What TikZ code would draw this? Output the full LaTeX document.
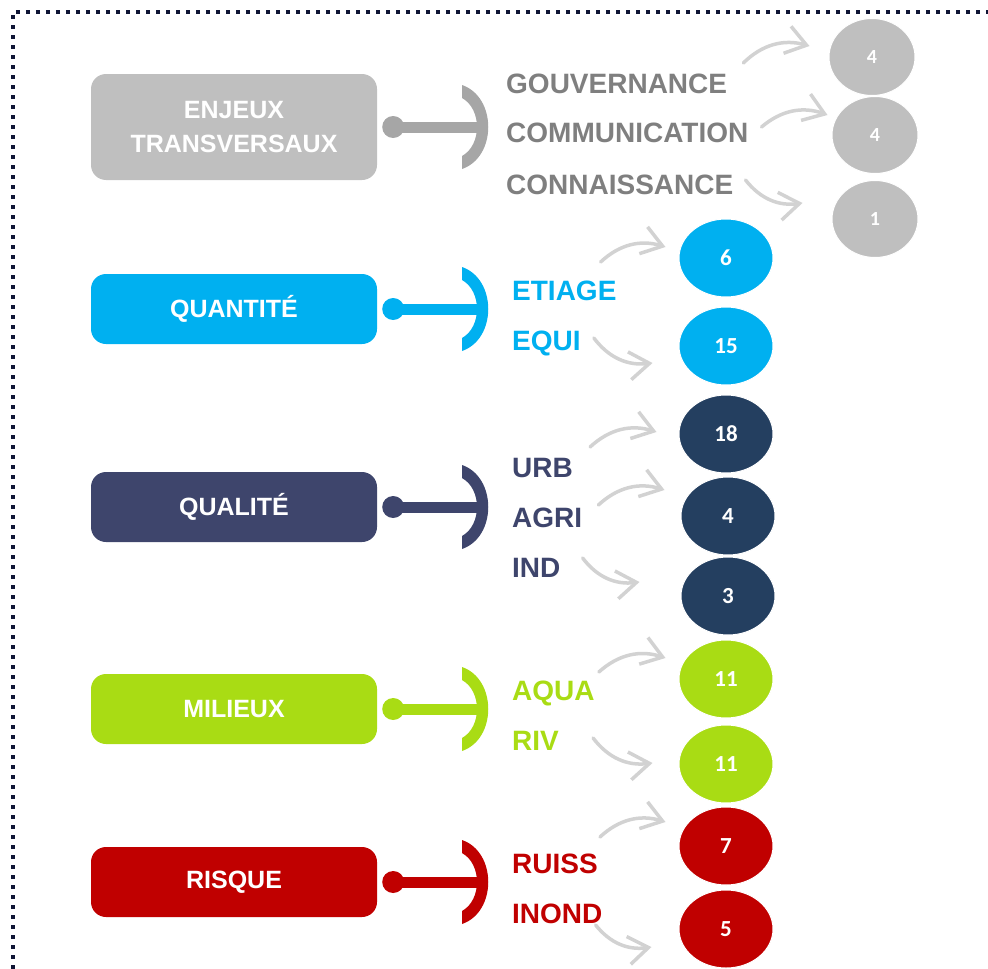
\documentclass[tikz,border=0pt]{standalone}
\usepackage{fontspec}
\setmainfont{Liberation Sans}
\newfontfamily\numfont{Carlito}
\usepackage{tikz}
\usetikzlibrary{arrows.meta, shapes.geometric}

\definecolor{enjcol}{HTML}{BFBFBF}
\definecolor{enjdark}{HTML}{A6A6A6}
\definecolor{enjtxt}{HTML}{7F7F7F}
\definecolor{qtcol}{HTML}{00B0F0}
\definecolor{qlcol}{HTML}{3E456C}
\definecolor{qlcirc}{HTML}{243F60}
\definecolor{milcol}{HTML}{A9DC14}
\definecolor{riskcol}{HTML}{C00000}
\definecolor{sketchcol}{HTML}{D2D2D2}
\definecolor{bordercol}{HTML}{0F1535}

\begin{document}
\begin{tikzpicture}[x=1pt, y=-1pt, inner sep=0pt,
	theme/.style={rectangle, rounded corners=15pt, minimum width=286pt, minimum height=70pt, text=white, align=center, font=\fontsize{25}{34}\selectfont\bfseries},
	item/.style={anchor=west, text height=20pt, text depth=0pt, font=\fontsize{28}{28}\selectfont\bfseries},
	count/.style={ellipse, minimum width=94pt, minimum height=78pt, draw=white, line width=1pt, text=white, text height=15pt, text depth=0pt, font=\numfont\fontsize{23}{23}\selectfont\bfseries},
	small/.style={minimum width=86pt, minimum height=77pt, text height=13pt, font=\numfont\fontsize{20}{20}\selectfont\bfseries},
	stem/.style={line width=11pt},
	sketch/.style={sketchcol, line width=3.5pt, line cap=round, -{Straight Barb[length=20pt, width=28pt, line width=3.5pt]}},
	hook/.pic={\fill (-15,-42) .. controls (20,-30) and (20,30) .. (-15,42) -- (-15,29) .. controls (5,18) and (5,-18) .. (-15,-29) -- cycle;}]
	
	\useasboundingbox (0,0) rectangle (988,969);
	\draw[bordercol, line width=4pt, dash pattern=on 4pt off 6pt] (13,969) -- (13,12) -- (988,12);
	
	% themes
	\node[theme, fill=enjcol, minimum height=106pt] (enj) at (234,127) {ENJEUX\\TRANSVERSAUX};
	\node[theme, fill=qtcol] (qt) at (234,309) {QUANTITÉ};
	\node[theme, fill=qlcol] (ql) at (234,507) {QUALITÉ};
	\node[theme, fill=milcol] (mil) at (234,709) {MILIEUX};
	\node[theme, fill=riskcol] (risk) at (234,882) {RISQUE};
	
	\coordinate (enj_b) at (477,127);
	\coordinate (qt_b) at (477,309);
	\coordinate (ql_b) at (477,507);
	\coordinate (mil_b) at (477,709);
	\coordinate (risk_b) at (477,882);
	
	\fill[enjdark] ([xshift=16pt]enj.east) circle (11pt);
	\draw[stem, enjdark] ([xshift=16pt]enj.east) -- (enj_b);
	\pic[color=enjdark] at (enj_b) {hook};
	
	\fill[qtcol] ([xshift=16pt]qt.east) circle (11pt);
	\draw[stem, qtcol] ([xshift=16pt]qt.east) -- (qt_b);
	\pic[color=qtcol] at (qt_b) {hook};
	
	\fill[qlcol] ([xshift=16pt]ql.east) circle (11pt);
	\draw[stem, qlcol] ([xshift=16pt]ql.east) -- (ql_b);
	\pic[color=qlcol] at (ql_b) {hook};
	
	\fill[milcol] ([xshift=16pt]mil.east) circle (11pt);
	\draw[stem, milcol] ([xshift=16pt]mil.east) -- (mil_b);
	\pic[color=milcol] at (mil_b) {hook};
	
	\fill[riskcol] ([xshift=16pt]risk.east) circle (11pt);
	\draw[stem, riskcol] ([xshift=16pt]risk.east) -- (risk_b);
	\pic[color=riskcol] at (risk_b) {hook};
	
	% sous-themes
	\node[item, text=enjtxt] (gouv) at (506,83) {GOUVERNANCE};
	\node[item, text=enjtxt] (comm) at (506,132) {COMMUNICATION};
	\node[item, text=enjtxt] (conn) at (506,184) {CONNAISSANCE};
	
	\node[item, text=qtcol] (etiage) at (512,290) {ETIAGE};
	\node[item, text=qtcol] (equi) at (512,340) {EQUI};
	
	\node[item, text=qlcol] (urb) at (512,467) {URB};
	\node[item, text=qlcol] (agri) at (512,517) {AGRI};
	\node[item, text=qlcol] (ind) at (512,567) {IND};
	
	\node[item, text=milcol] (aqua) at (512,690) {AQUA};
	\node[item, text=milcol] (riv) at (512,740) {RIV};
	
	\node[item, text=riskcol] (ruiss) at (512,863) {RUISS};
	\node[item, text=riskcol] (inond) at (512,913) {INOND};
	
	% compteurs
	\node[count, small, fill=enjcol] (enj_c1) at (872,57) {4};
	\node[count, small, fill=enjcol] (enj_c2) at (875,135) {4};
	\node[count, small, fill=enjcol] (enj_c3) at (875,219) {1};
	
	\node[count, fill=qtcol] (qt_c1) at (726,258) {6};
	\node[count, fill=qtcol] (qt_c2) at (726,346) {15};
	
	\node[count, fill=qlcirc] (ql_c1) at (726,434) {18};
	\node[count, fill=qlcirc] (ql_c2) at (728,516) {4};
	\node[count, fill=qlcirc] (ql_c3) at (728,596) {3};
	
	\node[count, fill=milcol] (mil_c1) at (726,679) {11};
	\node[count, fill=milcol] (mil_c2) at (726,764) {11};
	
	\node[count, fill=riskcol] (risk_c1) at (726,846) {7};
	\node[count, fill=riskcol] (risk_c2) at (726,929) {5};
	
	% fleches
	\draw[sketch] ([shift={(16,-20)}]gouv.east) to[bend left=30] ([shift={(-19,-11)}]enj_c1.west);
	\draw[sketch] ([shift={(13,-5)}]comm.east) to[bend left=30] ([shift={(-4,-20)}]enj_c2.west);
	\draw[sketch] ([shift={(12,-4)}]conn.east) to[bend right=30] ([shift={(-29,-16)}]enj_c3.west);
	
	\draw[sketch] ([shift={(-16,-28)}]etiage.east) to[bend left=30] ([shift={(-13,-11)}]qt_c1.west);
	\draw[sketch] ([shift={(13,-2)}]equi.east) to[bend right=30] ([shift={(-26,17)}]qt_c2.west);
	
	\draw[sketch] ([shift={(17,-20)}]urb.east) to[bend left=30] ([shift={(-22,-2)}]ql_c1.west);
	\draw[sketch] ([shift={(16,-12)}]agri.east) to[bend left=30] ([shift={(-16,-26)}]ql_c2.west);
	\draw[sketch] ([shift={(22,-9)}]ind.east) to[bend right=30] ([shift={(-41,-14)}]ql_c3.west);
	
	\draw[sketch] ([shift={(4,-18)}]aqua.east) to[bend left=30] ([shift={(-13,-21)}]mil_c1.west);
	\draw[sketch] ([shift={(34,-2)}]riv.east) to[bend right=30] ([shift={(-26,-1)}]mil_c2.west);
	
	\draw[sketch] ([shift={(2,-26)}]ruiss.east) to[bend left=30] ([shift={(-13,-24)}]risk_c1.west);
	\draw[sketch] ([shift={(-7,12)}]inond.east) to[bend right=30] ([shift={(-27,18)}]risk_c2.west);
\end{tikzpicture}
\end{document}
